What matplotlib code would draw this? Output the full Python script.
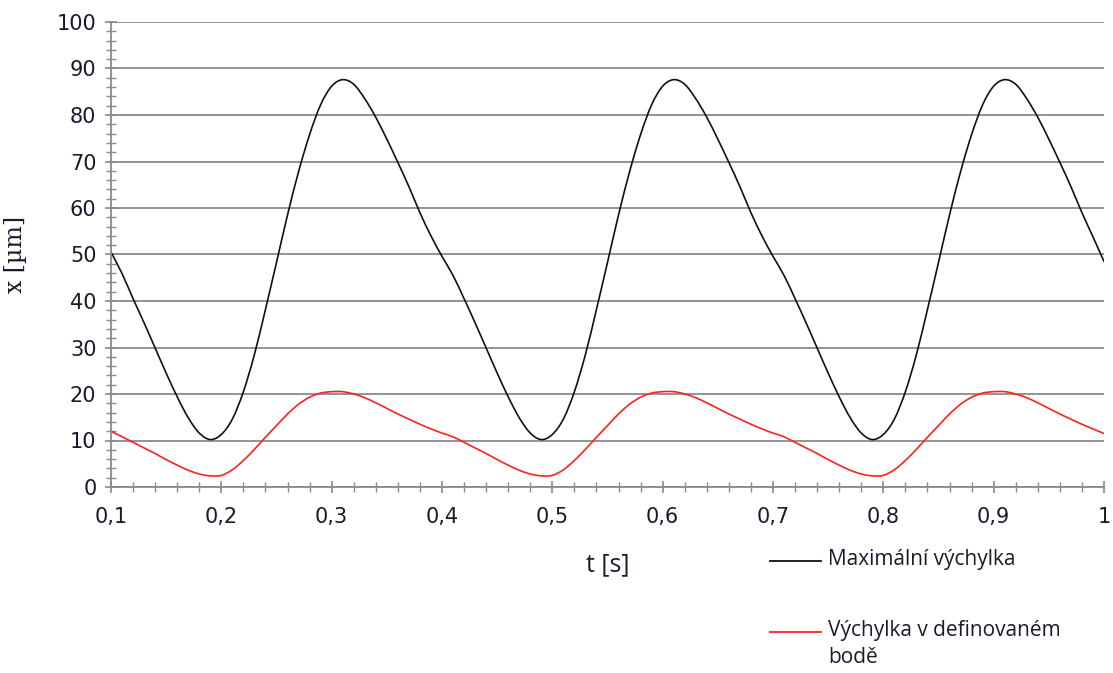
import matplotlib
matplotlib.use("Agg")
import matplotlib.pyplot as plt
import numpy as np
from matplotlib.lines import Line2D
from matplotlib.path import Path
from matplotlib.patches import PathPatch
from matplotlib.ticker import MultipleLocator

# time axis, step 0.01 s
t = [round(0.10 + 0.01 * i, 2) for i in range(91)]

max_x = [50.5, 45.9, 40.5, 35.3, 29.9, 24.5, 19.4, 14.9, 11.6, 10.2,
         11.3, 14.6, 20.5, 28.5, 38.2, 48.3, 58.5, 67.8, 75.8, 82.2,
         86.2, 87.6, 86.6, 83.5, 79.5, 74.8, 69.8, 64.6, 59.0, 54.0,
         49.6, 45.5, 40.5, 35.3, 29.9, 24.5, 19.4, 14.9, 11.6, 10.2,
         11.3, 14.6, 20.5, 28.5, 38.2, 48.3, 58.5, 67.8, 75.8, 82.2,
         86.2, 87.6, 86.6, 83.5, 79.5, 74.8, 69.8, 64.6, 59.0, 54.0,
         49.6, 45.5, 40.5, 35.3, 29.9, 24.5, 19.4, 14.9, 11.6, 10.2,
         11.3, 14.6, 20.5, 28.5, 38.2, 48.3, 58.5, 67.8, 75.8, 82.2,
         86.2, 87.6, 86.6, 83.5, 79.5, 74.8, 69.8, 64.6, 59.0, 53.8,
         48.5]

point_x = [12.0, 10.8, 9.6, 8.4, 7.2, 5.9, 4.7, 3.6, 2.8, 2.4,
           2.5, 3.7, 5.7, 8.1, 10.7, 13.2, 15.7, 17.8, 19.3, 20.2,
           20.5, 20.5, 20.0, 19.2, 18.1, 16.9, 15.7, 14.6, 13.5, 12.5,
           11.6, 10.8, 9.6, 8.4, 7.2, 5.9, 4.7, 3.6, 2.8, 2.4,
           2.5, 3.7, 5.7, 8.1, 10.7, 13.2, 15.7, 17.8, 19.3, 20.2,
           20.5, 20.5, 20.0, 19.2, 18.1, 16.9, 15.7, 14.6, 13.5, 12.5,
           11.6, 10.8, 9.6, 8.4, 7.2, 5.9, 4.7, 3.6, 2.8, 2.4,
           2.5, 3.7, 5.7, 8.1, 10.7, 13.2, 15.7, 17.8, 19.3, 20.2,
           20.5, 20.5, 20.0, 19.2, 18.1, 16.9, 15.7, 14.6, 13.5, 12.5,
           11.5]

x_ticks = [0.1, 0.2, 0.3, 0.4, 0.5, 0.6, 0.7, 0.8, 0.9, 1.0]
x_ticklabels = ["0,1", "0,2", "0,3", "0,4", "0,5", "0,6", "0,7", "0,8", "0,9", "1"]
y_ticks = list(range(0, 101, 10))

labels = ["Maximální výchylka", "Výchylka v definovaném\nbodě"]
colors = ["#111111", "#ff2020"]

grid_c = "#8a8a8a"
text_c = "#1a1a2e"


def smooth_path(xs, ys):
    # smoothed line like Excel's: cubic Bezier through every data point
    p = np.column_stack([xs, ys])
    verts = [p[0]]
    codes = [Path.MOVETO]
    for i in range(len(p) - 1):
        p0 = p[i - 1] if i > 0 else p[i]
        p3 = p[i + 2] if i + 2 < len(p) else p[i + 1]
        c1 = p[i] + (p[i + 1] - p0) / 6
        c2 = p[i + 1] - (p3 - p[i]) / 6
        verts += [c1, c2, p[i + 1]]
        codes += [Path.CURVE4] * 3
    return Path(verts, codes)


fig = plt.figure(figsize=(11.13, 6.73), dpi=100)
ax = fig.add_axes([111 / 1113, 186 / 673, 993 / 1113, 465 / 673])

for ys, c in zip([max_x, point_x], colors):
    ax.add_patch(PathPatch(smooth_path(t, ys), fill=False, edgecolor=c, lw=1.2,
                           capstyle="round", joinstyle="round"))

ax.set_xlim(0.1, 1.0)
ax.set_ylim(0, 100)
ax.set_xticks(x_ticks)
ax.set_xticklabels(x_ticklabels)
ax.set_yticks(y_ticks)
ax.xaxis.set_minor_locator(MultipleLocator(0.02))
ax.yaxis.set_minor_locator(MultipleLocator(2))

ax.yaxis.grid(True, color=grid_c, lw=1.3)
ax.set_axisbelow(True)
for s in ["top", "right"]:
    ax.spines[s].set_visible(False)
for s in ["left", "bottom"]:
    ax.spines[s].set_color(grid_c)
    ax.spines[s].set_linewidth(1.3)

ax.tick_params(which="major", direction="inout", length=9, width=1.2,
               color=grid_c, labelsize=15, labelcolor=text_c)
ax.tick_params(which="minor", direction="inout", length=7, width=1.0, color=grid_c)
ax.tick_params(axis="x", which="major", pad=10)
ax.tick_params(axis="y", which="major", pad=6)

ax.set_ylabel("x [µm]", fontsize=17, family="DejaVu Serif", color=text_c)
ax.yaxis.set_label_coords(-84 / 993, 0.5)
ax.set_xlabel("t [s]", fontsize=18, family="Open Sans", color=text_c, va="center")
ax.xaxis.set_label_coords(0.5, -78 / 465)

# legend, drawn in figure coordinates
W, H = 1113, 673
for lab, c, y in zip(labels, colors, [561, 632]):
    fig.add_artist(Line2D([770 / W, 821 / W], [1 - y / H, 1 - y / H],
                          color=c, lw=1.3, transform=fig.transFigure))
    fig.text(828 / W, 1 - (y - 12) / H, lab, fontsize=15, family="Open Sans",
             color=text_c, va="top", ha="left", linespacing=1.35)

fig.savefig("out.png", dpi=100)
